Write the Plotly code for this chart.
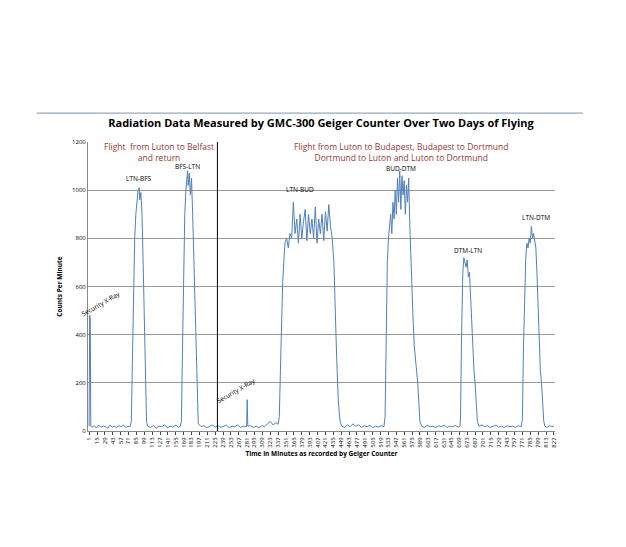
import plotly.graph_objects as go

base = [(1,20),(2,480),(3,470),(4,20),(6,15),(10,22),(14,12),(18,25),(22,15),(26,20),(30,18),(34,12),(38,24),(42,16),(46,20),(50,14),(54,22),(58,18),(62,25),(66,15),(70,20),(74,18)]
ltn_bfs = [(76,40),(78,300),(80,620),(82,800),(84,900),(86,960),(88,1000),(90,1010),(91,960),(93,990),(95,900),(97,700),(99,420),(101,150),(103,40),(105,20)]
gap1 = [(110,15),(115,22),(120,12),(125,20),(130,18),(135,25),(140,14),(145,20),(150,16),(155,24),(160,15),(163,20)]
bfs_ltn = [(165,40),(167,350),(169,700),(171,900),(173,1000),(175,1060),(176,1080),(177,1020),(179,1070),(181,980),(183,1050),(185,900),(187,700),(189,500),(191,300),(193,120),(195,30)]
gap2 = [(200,18),(205,22),(210,14),(215,20),(220,25),(225,16),(230,22),(235,15),(240,20),(245,24),(250,14),(255,20),(260,18),(265,25),(270,15),(275,20),(280,18),(281,20),(282,130),(283,20),(288,22),(293,15),(298,20),(303,14),(308,22),(313,18),(318,30),(323,40),(328,25),(333,35),(337,28)]
ltn_bud = [(339,60),(341,250),(343,500),(345,620),(347,700),(349,780),(352,800),(355,760),(358,820),(361,800),(364,950),(367,820),(370,880),(373,780),(376,900),(379,800),(382,870),(385,920),(388,790),(391,900),(394,820),(397,880),(400,800),(403,930),(406,780),(409,880),(412,820),(415,900),(418,790),(421,910),(424,830),(427,940),(430,850),(433,800),(436,700),(438,500),(441,300),(444,120),(447,40),(450,20)]
gap3 = [(455,15),(460,25),(465,18),(470,30),(475,20),(480,26),(485,15),(490,22),(495,18),(500,24),(505,14),(510,20),(515,16),(520,22),(525,18)]
bud_dtm = [(527,60),(529,400),(531,700),(533,800),(535,850),(537,900),(539,820),(541,950),(543,880),(545,1000),(547,900),(549,1050),(551,950),(553,1080),(555,920),(557,1060),(559,980),(561,1040),(563,900),(565,1020),(567,950),(569,1050),(571,850),(573,700),(575,550),(577,450),(579,350),(581,280),(583,250),(585,200),(587,120),(589,40),(592,20)]
gap4 = [(597,15),(602,24),(607,18),(612,20),(617,14),(622,22),(627,18),(632,25),(637,15),(642,20),(647,17),(652,23),(657,16),(660,20)]
dtm_ltn = [(661,50),(663,400),(665,650),(667,720),(669,700),(671,680),(673,710),(675,640),(677,660),(679,550),(681,420),(683,300),(685,250),(687,200),(689,120),(691,40),(694,20)]
gap5 = [(699,25),(704,18),(709,22),(714,15),(719,20),(724,24),(729,16),(734,20),(739,14),(744,22),(749,18),(754,20),(759,15),(764,22),(769,18)]
ltn_dtm = [(771,50),(773,350),(775,600),(777,720),(779,780),(781,760),(783,800),(785,780),(787,850),(789,800),(791,820),(793,780),(795,760),(797,650),(799,500),(801,350),(803,250),(805,200),(807,100),(809,40),(811,20),(815,15),(819,22),(823,18),(827,20)]

pts = base+ltn_bfs+gap1+bfs_ltn+gap2+ltn_bud+gap3+bud_dtm+gap4+dtm_ltn+gap5+ltn_dtm
minutes = [p[0] for p in pts]
counts = [p[1] for p in pts]
tick_vals = list(range(1, 828, 14))

fig = go.Figure(go.Scatter(x=minutes, y=counts, mode="lines", line=dict(color="#4F81BD", width=1)))
F = "Open Sans"
ann = []
def a(x, y, t, size=6.5, color="black", angle=0):
    ann.append(dict(x=x, y=y, text=t, showarrow=False, font=dict(size=size, color=color, family=F), textangle=angle, xref="x", yref="y"))
red = "#953735"
a(126, 1160, "Flight  from Luton to Belfast<br>and return", 8.5, red)
a(556, 1160, "Flight from Luton to Budapest, Budapest to Dortmund<br>Dortmund to Luton and Luton to Dortmund", 8.5, red)
a(89, 1050, "LTN-BFS"); a(175, 1100, "BFS-LTN"); a(375, 1003, "LTN-BUD"); a(555, 1090, "BUD-DTM")
a(675, 750, "DTM-LTN"); a(795, 885, "LTN-DTM")
a(22, 530, "Security X-Ray", 6.5, "black", -30); a(262, 170, "Security X-Ray", 6.5, "black", -30)
fig.update_layout(annotations=ann,
    width=626, height=547, margin=dict(l=80, r=79, t=134, b=124, autoexpand=False),
    paper_bgcolor="white", plot_bgcolor="white", showlegend=False,
    title=dict(text="<b>Radiation Data Measured by GMC-300 Geiger Counter Over Two Days of Flying</b>",
               x=0.5, xanchor="center", y=1-115/547, yanchor="middle", font=dict(size=11, family=F, color="black")),
    shapes=[dict(type="line", xref="x", yref="y", x0=229, x1=229, y0=0, y1=1200, line=dict(color="black", width=1)),
            dict(type="line", xref="paper", yref="paper", x0=-0.11, x1=1.06, y0=1.1, y1=1.1, line=dict(color="#7f93b0", width=1))])
fig.update_xaxes(range=[-1, 829], tickvals=tick_vals, ticktext=[str(v) for v in tick_vals], tickangle=-90,
                 tickfont=dict(size=6, family=F, color="black"), showgrid=False, linecolor="#888", ticks="outside", ticklen=3,
                 title=dict(text="<b>Time in Minutes as recorded by Geiger Counter</b>", font=dict(size=6.5, family=F, color="black"), standoff=4))
fig.update_yaxes(range=[0, 1200], dtick=200, tickfont=dict(size=6, family=F, color="black"), gridcolor="#999", showline=True, linecolor="#888",
                 title=dict(text="<b>Counts Per Minute</b>", font=dict(size=6.5, family=F, color="black"), standoff=8))
fig.write_html("out.html")
